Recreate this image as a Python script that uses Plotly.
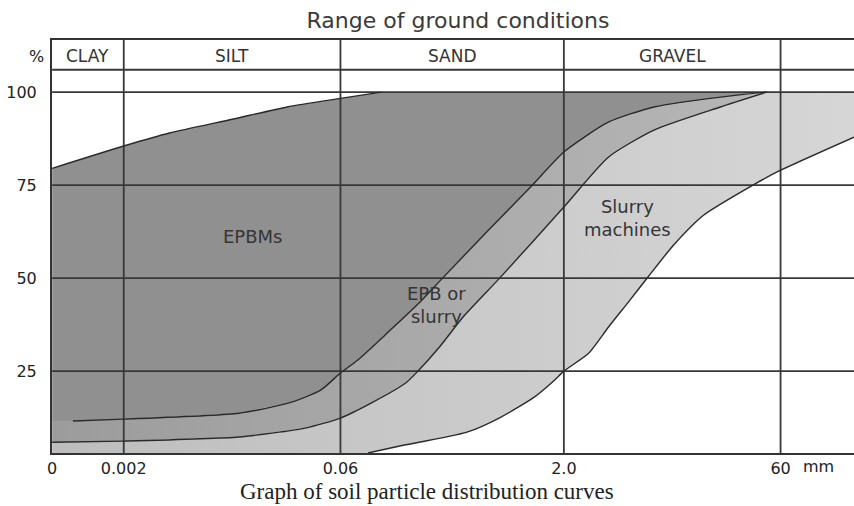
import math
import plotly.graph_objects as go

# ---------------- data ----------------
# particle size axis (mm, log scale); the left edge is labelled "0"
size_tick_vals = [0.00065, 0.002, 0.06, 2.0, 60.0]
size_tick_text = ["0", "0.002", "0.06", "2.0", "60"]
size_max = 190.0

# percent passing axis
pct_tick_vals = [25, 50, 75, 100]
pct_min = 3
pct_max = 114
header_line = 106

# soil classes (header row) and their size boundaries
soil_classes = ["CLAY", "SILT", "SAND", "GRAVEL", ""]
class_bounds = [0.00065, 0.002, 0.06, 2.0, 60.0, 190.0]

# upper limit of the EPBM zone
epbm_upper_x = [0.00065, 0.002, 0.0041, 0.011, 0.026, 0.06, 0.114]
epbm_upper_y = [79.5, 85.5, 89.0, 92.7, 96.0, 98.3, 100.0]

# lower limit of EPBM zone = upper limit of "EPB or slurry" zone
epb_limit_x = [0.0009, 0.002, 0.0122, 0.0264, 0.044, 0.06, 0.0788, 0.127,
               0.206, 0.298, 0.602, 1.2, 2.0, 4.02, 8.22, 30.3, 48.3]
epb_limit_y = [11.6, 12.1, 13.7, 16.4, 19.9, 24.5, 28.0, 35.5,
               43.3, 50.0, 62.6, 74.7, 83.9, 91.9, 96.0, 99.2, 100.0]

# lower limit of "EPB or slurry" zone = upper limit of slurry zone
slurry_limit_x = [0.00065, 0.002, 0.0122, 0.0344, 0.06, 0.097, 0.167, 0.199,
                  0.284, 0.41, 0.73, 2.0, 4.02, 8.22, 23.3, 48.3]
slurry_limit_y = [5.9, 6.2, 7.3, 9.7, 12.4, 16.4, 21.8, 24.7,
                  31.5, 39.5, 50.0, 69.1, 82.5, 89.8, 96.0, 100.0]

# lower limit of slurry machine zone
slurry_lower_x = [0.0925, 0.1495, 0.437, 0.741, 1.257, 1.732, 2.0, 2.95,
                  4.02, 5.49, 7.49, 11.2, 17.9, 38.9, 60.0, 190.0]
slurry_lower_y = [3.0, 4.8, 8.6, 12.6, 18.0, 22.6, 25.0, 29.8,
                  36.8, 43.5, 50.3, 58.9, 66.9, 75.0, 79.0, 87.9]

# zone labels (text, size mm, percent)
zone_labels = ["EPBMs", "EPB or<br>slurry", "Slurry<br>machines"]
zone_label_x = [0.015, 0.269, 5.40]
zone_label_y = [61.3, 42.7, 66.1]

# ---------------- figure ----------------
GRID = "#383838"
CURVE = "#2a2a2a"
SANS = "DejaVu Sans"


def rev(a):
    return list(a)[::-1]


x0 = size_tick_vals[0]
fig = go.Figure()

# dark zone: EPBMs
fig.add_trace(go.Scatter(
    x=epbm_upper_x + rev(epb_limit_x) + [x0],
    y=epbm_upper_y + rev(epb_limit_y) + [epb_limit_y[0]],
    fill="toself", mode="lines", line=dict(width=0),
    fillcolor="#909090", hoverinfo="skip"))

# medium zone: EPB or slurry
fig.add_trace(go.Scatter(
    x=epb_limit_x + rev(slurry_limit_x) + [x0],
    y=epb_limit_y + rev(slurry_limit_y) + [epb_limit_y[0]],
    fill="toself", mode="lines", line=dict(width=0),
    fillcolor="#a8a8a8",
    fillgradient=dict(type="horizontal",
                      colorscale=[[0, "#9c9c9c"], [1, "#b6b6b6"]]),
    hoverinfo="skip"))

# light zone: slurry machines
fig.add_trace(go.Scatter(
    x=slurry_limit_x + [size_max] + rev(slurry_lower_x) + [x0],
    y=slurry_limit_y + [100.0] + rev(slurry_lower_y) + [pct_min],
    fill="toself", mode="lines", line=dict(width=0),
    fillcolor="#c8c8c8",
    fillgradient=dict(type="horizontal",
                      colorscale=[[0, "#bdbdbd"], [1, "#d6d6d6"]]),
    hoverinfo="skip"))

# grid lines on top of the zones
gx, gy = [], []
for v in pct_tick_vals + [header_line]:
    gx += [x0, size_max, None]
    gy += [v, v, None]
for t in size_tick_vals[1:]:
    gx += [t, t, None]
    gy += [pct_min, pct_max, None]
fig.add_trace(go.Scatter(x=gx, y=gy, mode="lines",
                         line=dict(color=GRID, width=1.8), hoverinfo="skip"))

# boundary curves
for cx, cy in [(epbm_upper_x, epbm_upper_y), (epb_limit_x, epb_limit_y),
               (slurry_limit_x, slurry_limit_y), (slurry_lower_x, slurry_lower_y)]:
    fig.add_trace(go.Scatter(x=cx, y=cy, mode="lines",
                             line=dict(color=CURVE, width=1.4, shape="spline",
                                       smoothing=0.6),
                             hoverinfo="skip"))

ann = []
# header row labels
for i, name in enumerate(soil_classes):
    if not name:
        continue
    xc = (math.log10(class_bounds[i]) + math.log10(class_bounds[i + 1])) / 2
    ann.append(dict(x=xc, y=109.6, xref="x", yref="y", text=name,
                    showarrow=False, font=dict(family=SANS, size=17, color="#333")))
# zone labels
for t, zx, zy in zip(zone_labels, zone_label_x, zone_label_y):
    ann.append(dict(x=math.log10(zx), y=zy, xref="x", yref="y", text=t,
                    showarrow=False, font=dict(family=SANS, size=18, color="#353535")))
# axis unit labels
ann.append(dict(x=-0.031, y=109.6, xref="paper", yref="y", text="%",
                showarrow=False, font=dict(family=SANS, size=16, color="#222")))
ann.append(dict(x=0.9776, y=0, yshift=-13, xref="paper", yref="paper", text="mm",
                yanchor="middle", showarrow=False,
                font=dict(family=SANS, size=16, color="#222")))
# caption
ann.append(dict(x=0.4676, y=-0.0944, xref="paper", yref="paper",
                text="Graph of soil particle distribution curves",
                yanchor="middle", showarrow=False,
                font=dict(family="Liberation Serif", size=23, color="#222")))

fig.update_layout(
    width=854, height=506,
    margin=dict(l=52, r=0, t=40, b=53),
    paper_bgcolor="white", plot_bgcolor="white",
    showlegend=False,
    annotations=ann,
    title=dict(text="Range of ground conditions", x=458 / 854, xanchor="center",
               y=1 - 20 / 506, yanchor="middle",
               font=dict(family=SANS, size=22, color="#3a3a3a")),
)
fig.update_xaxes(type="log",
                 range=[math.log10(x0) - 0.001, math.log10(size_max)],
                 tickmode="array", tickvals=size_tick_vals, ticktext=size_tick_text,
                 showgrid=False, zeroline=False, showline=True, mirror=True,
                 linecolor="#333", linewidth=2, ticks="",
                 tickfont=dict(family=SANS, size=16, color="#222"),
                 ticklabelstandoff=0, automargin=False)
fig.update_yaxes(range=[pct_min, pct_max],
                 tickmode="array", tickvals=pct_tick_vals,
                 showgrid=False, zeroline=False, showline=True,
                 linecolor="#333", linewidth=2, ticks="",
                 tickfont=dict(family=SANS, size=16, color="#222"),
                 ticklabelstandoff=10, automargin=False)

fig.write_html("out.html",
               config={"displayModeBar": False},
               post_script="document.body.style.margin='0px';"
                           "document.body.style.padding='0px';")
